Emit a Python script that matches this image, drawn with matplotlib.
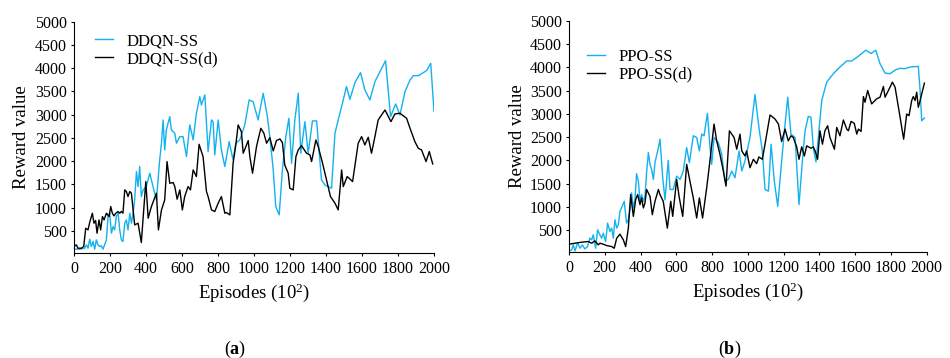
import matplotlib.pyplot as plt

# fonts
plt.rcParams['font.family'] = ['Liberation Serif', 'DejaVu Serif']
plt.rcParams['mathtext.fontset'] = 'custom'
plt.rcParams['mathtext.rm'] = 'Liberation Serif'
plt.rcParams['mathtext.bf'] = 'Liberation Serif:bold'
plt.rcParams['mathtext.it'] = 'Liberation Serif:italic'

BLUE = '#12b2ee'

# (a) DDQN
ddqn_ep = [0, 32, 59, 69, 78, 87, 96, 106, 115, 124, 133, 143, 152, 161, 180, 189, 198, 208, 217, 226,
           235, 245, 254, 263, 272, 282, 291, 300, 310, 319, 328, 337, 347, 356, 365, 374, 384, 402, 421, 439,
           458, 476, 486, 495, 504, 513, 532, 541, 560, 569, 588, 606, 615, 625, 643, 652, 662, 680, 699, 708,
           727, 745, 764, 773, 782, 801, 819, 838, 862, 884, 899, 921, 949, 973, 995, 1023, 1051, 1073, 1088, 1107,
           1121, 1140, 1158, 1177, 1194, 1209, 1227, 1246, 1260, 1283, 1301, 1325, 1348, 1375, 1394, 1412, 1431, 1450, 1468, 1496,
           1514, 1533, 1561, 1592, 1616, 1644, 1672, 1700, 1731, 1759, 1787, 1811, 1839, 1867, 1885, 1913, 1959, 1982, 2000]
ddqn_ss = [106, 106, 127, 199, 127, 321, 163, 271, 106, 307, 199, 163, 178, 106, 307, 808, 880, 450, 593, 521,
           808, 880, 521, 307, 271, 665, 736, 521, 880, 665, 880, 1166, 1776, 1453, 1883, 1238, 1381, 1453, 1740, 1453,
           1166, 2026, 2385, 2886, 2241, 2671, 2958, 2671, 2600, 2385, 2528, 2528, 2313, 2098, 2779, 2635, 2456, 3030, 3388, 3209,
           3424, 2206, 2886, 2850, 2134, 2886, 2241, 1883, 2420, 2026, 2385, 2456, 2779, 3316, 3280, 2886, 3460, 2994, 2528, 1811,
           1023, 844, 1811, 2528, 2922, 1955, 2886, 3460, 2170, 2850, 2170, 2865, 2865, 1596, 1489, 1453, 1417, 2600, 2886, 3316,
           3603, 3331, 3689, 3904, 3531, 3316, 3710, 3925, 4162, 2958, 3230, 2994, 3495, 3746, 3839, 3839, 3947, 4104, 3080]

ddqn_d_ep = [0, 13, 22, 41, 54, 65, 78, 87, 102, 111, 120, 128, 139, 148, 158, 167, 180, 195, 204, 213,
             222, 232, 245, 254, 263, 272, 282, 291, 300, 310, 319, 337, 356, 374, 399, 412, 430, 458, 469, 486,
             504, 517, 532, 551, 560, 573, 588, 602, 615, 634, 647, 662, 680, 695, 717, 736, 745, 764, 782, 801,
             819, 838, 847, 866, 884, 899, 912, 930, 940, 955, 968, 977, 992, 1014, 1038, 1055, 1070, 1088, 1107, 1125,
             1144, 1158, 1171, 1190, 1199, 1218, 1233, 1246, 1264, 1292, 1311, 1320, 1344, 1357, 1381, 1403, 1425, 1450, 1468, 1487,
             1496, 1518, 1548, 1579, 1598, 1616, 1635, 1653, 1672, 1690, 1728, 1761, 1783, 1811, 1848, 1867, 1894, 1913, 1931, 1956,
             1974, 1993]
ddqn_ss_d = [163, 199, 127, 127, 163, 557, 521, 679, 880, 665, 722, 450, 736, 521, 808, 736, 880, 808, 1023, 880,
             822, 880, 916, 880, 916, 880, 1381, 1346, 1238, 1346, 1310, 629, 665, 249, 1561, 772, 1023, 1310, 521, 951,
             1166, 1991, 1525, 1539, 1453, 1181, 1381, 951, 1238, 1453, 1381, 1811, 1668, 2363, 2098, 1346, 1238, 951, 916, 1095,
             1238, 880, 894, 844, 1955, 2349, 2779, 2635, 2170, 2313, 2442, 2098, 1740, 2313, 2707, 2600, 2385, 2506, 2220, 2442,
             2478, 2399, 1919, 1740, 1417, 1381, 2098, 2241, 2334, 2170, 2134, 1991, 2456, 2313, 1955, 1596, 1238, 1095, 951, 1811,
             1453, 1668, 1561, 2385, 2528, 2349, 2514, 2170, 2528, 2886, 3101, 2850, 3015, 3030, 2922, 2707, 2420, 2277, 2241, 1991,
             2206, 1940]

# (b) PPO
ppo_ep = [0, 15, 24, 34, 48, 62, 75, 89, 104, 117, 127, 136, 149, 160, 173, 183, 192, 205, 216, 229,
          239, 248, 257, 267, 276, 285, 298, 309, 322, 332, 341, 350, 360, 369, 378, 388, 397, 406, 416, 425,
          434, 444, 453, 462, 472, 481, 500, 509, 524, 537, 555, 565, 583, 602, 621, 639, 658, 673, 695, 714,
          729, 742, 755, 774, 788, 798, 811, 835, 854, 872, 891, 910, 928, 951, 966, 984, 1012, 1040, 1062, 1081,
          1096, 1115, 1130, 1148, 1167, 1189, 1208, 1223, 1241, 1264, 1286, 1305, 1320, 1338, 1353, 1366, 1381, 1394, 1413, 1441,
          1478, 1515, 1553, 1581, 1618, 1659, 1689, 1715, 1739, 1767, 1795, 1827, 1851, 1879, 1907, 1953, 1963, 1972, 1987]
ppo_ss = [53, 75, 183, 53, 219, 111, 183, 96, 147, 327, 291, 399, 111, 507, 399, 327, 435, 255, 651, 471,
          543, 327, 724, 543, 615, 904, 1012, 1120, 651, 724, 940, 1301, 976, 1156, 1712, 1553, 1120, 1264, 1120, 1228,
          1733, 2166, 1914, 1805, 1589, 1950, 2274, 2454, 1625, 1150, 2000, 1373, 1373, 1661, 1589, 1769, 2274, 1950, 2527, 2491,
          2202, 2563, 2527, 3010, 2310, 1914, 2491, 2382, 2130, 1553, 1589, 1769, 1625, 2202, 1769, 1986, 2491, 3414, 2707, 2202,
          1373, 1337, 2346, 1553, 1012, 1986, 2779, 3356, 2563, 2491, 1048, 1986, 2635, 2945, 2923, 2274, 1964, 2491, 3284, 3681,
          3861, 4005, 4135, 4135, 4236, 4366, 4294, 4366, 4077, 3875, 3861, 3947, 3976, 3969, 4005, 4019, 3500, 2851, 2909]

ppo_d_ep = [0, 34, 71, 108, 127, 145, 164, 173, 192, 211, 239, 253, 267, 285, 304, 317, 332, 345, 360, 373,
            384, 397, 406, 416, 425, 434, 453, 466, 481, 500, 509, 527, 550, 569, 580, 602, 617, 636, 658, 680,
            695, 714, 729, 747, 770, 788, 811, 826, 844, 863, 878, 897, 910, 923, 938, 956, 966, 984, 993, 1012,
            1031, 1049, 1062, 1081, 1096, 1124, 1152, 1171, 1189, 1208, 1226, 1241, 1254, 1273, 1286, 1301, 1316, 1329, 1353, 1366,
            1376, 1390, 1403, 1417, 1431, 1446, 1459, 1484, 1497, 1515, 1534, 1553, 1562, 1577, 1595, 1609, 1618, 1633, 1646, 1655,
            1670, 1692, 1720, 1739, 1758, 1767, 1795, 1808, 1823, 1845, 1871, 1888, 1901, 1916, 1925, 1935, 1944, 1953, 1963, 1987]
ppo_ss_d = [197, 219, 240, 255, 219, 269, 183, 219, 197, 168, 147, 111, 327, 413, 291, 147, 543, 1264, 796, 1156,
            1264, 1048, 1192, 976, 1084, 1373, 1228, 832, 1120, 1373, 1264, 1120, 543, 1120, 796, 1589, 1192, 796, 1914, 1481,
            1192, 760, 1192, 760, 1409, 1986, 2779, 2418, 2130, 1769, 1445, 2635, 2563, 2491, 2238, 2563, 2202, 2094, 2202, 1841,
            2022, 1928, 2072, 2022, 2346, 2974, 2887, 2779, 2404, 2671, 2418, 2527, 2491, 2289, 2022, 2289, 2094, 2310, 2260, 2289,
            2202, 2022, 2635, 2346, 2635, 2743, 2491, 2238, 2707, 2527, 2866, 2671, 2635, 2837, 2793, 2563, 2671, 2620, 3370, 3248,
            3500, 3212, 3320, 3356, 3587, 3356, 3572, 3681, 3572, 3067, 2454, 2995, 2959, 3284, 3370, 3284, 3464, 3140, 3284, 3659]

y_ticks = list(range(500, 5001, 500))
x_ticks = list(range(0, 2001, 200))

fig = plt.figure(figsize=(9.5, 3.58), dpi=100)
ax1 = fig.add_axes([0.0779, 0.2941, 0.3789, 0.6453])
ax2 = fig.add_axes([0.5989, 0.2961, 0.3766, 0.6461])

panels = [
    (ax1, ddqn_ep, ddqn_ss, ddqn_d_ep, ddqn_ss_d, 'DDQN-SS', 'DDQN-SS(d)', (0.058, 0.95), '(a)', 0.248),
    (ax2, ppo_ep, ppo_ss, ppo_d_ep, ppo_ss_d, 'PPO-SS', 'PPO-SS(d)', (0.05, 0.878), '(b)', 0.768),
]

for ax, ep1, v1, ep2, v2, lab1, lab2, leg_pos, tag, tag_x in panels:
    ax.plot(ep1, v1, color=BLUE, lw=1.0, label=lab1)
    ax.plot(ep2, v2, color='black', lw=1.0, label=lab2)
    ax.set_xlim(0, 2000)
    ax.set_ylim(30, 5000)
    ax.set_xticks(x_ticks)
    ax.set_yticks(y_ticks)
    ax.tick_params(direction='out', length=2.5, width=0.8, pad=2.5, labelsize=11.5)
    ax.tick_params(axis='x', pad=3.5)
    for s in ['top', 'right']:
        ax.spines[s].set_visible(False)
    for s in ['left', 'bottom']:
        ax.spines[s].set_linewidth(0.8)
    ax.set_xlabel('Episodes (10$^2$)', fontsize=13.5, va='center')
    ax.xaxis.set_label_coords(0.5, -0.172)
    ax.set_ylabel('Reward value', fontsize=13.5, va='center')
    ax.yaxis.set_label_coords(-0.145, 0.5)
    ax.legend(loc='upper left', bbox_to_anchor=leg_pos, frameon=False, fontsize=12,
              borderpad=0, borderaxespad=0, handlelength=1.1, handletextpad=0.8,
              labelspacing=0.1)
    fig.text(tag_x, 0.025, '(' + r'$\mathbf{' + tag[1] + '}$' + ')', fontsize=13,
             ha='center', va='center')

fig.savefig('out.png', dpi=100)
